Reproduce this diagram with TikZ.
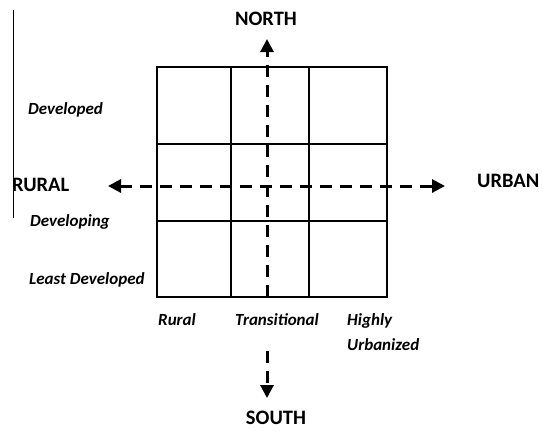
\documentclass[tikz,border=0pt]{standalone}
\usepackage{fontspec}
\setmainfont{Carlito}
\usetikzlibrary{arrows.meta}
\begin{document}
\begin{tikzpicture}[x=1pt,y=-1pt,
  gridline/.style={line width=1.8pt},
  axisline/.style={line width=3pt, dash pattern=on 12pt off 8pt},
  tip/.style={-{Triangle[length=13pt,width=13pt]}},
  bothtips/.style={{Triangle[length=13pt,width=13pt]}-{Triangle[length=13pt,width=13pt]}},
  compass/.style={font=\fontsize{20.5}{22}\selectfont\bfseries, inner sep=0pt},
  lbl/.style={font=\fontsize{17}{18}\selectfont\bfseries\itshape, inner sep=0pt, anchor=west}]
\useasboundingbox (0,0) rectangle (543,431);

% thin edge line
\draw[line width=0.8pt] (13,10) -- (13,218);

% grid
\node[draw, gridline, minimum width=230pt, minimum height=230pt, inner sep=0pt] (grid) at (272,182) {};
\coordinate (c1t) at (231,67); \coordinate (c1b) at (231,297);
\coordinate (c2t) at (309,67); \coordinate (c2b) at (309,297);
\coordinate (r1l) at (157,144); \coordinate (r1r) at (387,144);
\coordinate (r2l) at (157,221); \coordinate (r2r) at (387,221);
\draw[gridline] (c1t) -- (c1b);
\draw[gridline] (c2t) -- (c2b);
\draw[gridline] (r1l) -- (r1r);
\draw[gridline] (r2l) -- (r2r);

% axes
\coordinate (nbase) at (267,297);
\coordinate (ntip) at (267,39);
\coordinate (sbase) at (267,351);
\coordinate (stip) at (267,398);
\coordinate (wtip) at (108,186);
\coordinate (etip) at (445,186);
\draw[axisline, tip] (nbase) -- (ntip);
\draw[axisline, tip] (sbase) -- (stip);
\draw[axisline, bothtips] (wtip) -- (etip);

% compass labels
\node[compass] (north) at (266,19) {NORTH};
\node[compass] (south) at (276,418) {SOUTH};
\node[compass, anchor=west] (rural) at (12,185) {RURAL};
\node[compass, anchor=west] (urban) at (477,181) {URBAN};

% row labels
\node[lbl] (dev) at (28,110) {Developed};
\node[lbl] (deving) at (30,222) {Developing};
\node[lbl] (least) at (29,280) {Least Developed};

% column labels
\node[lbl] (colr) at (158,320) {Rural};
\node[lbl] (colt) at (235,320) {Transitional};
\node[lbl] (colh) at (347,321) {Highly};
\node[lbl] (colu) at (347,345) {Urbanized};
\end{tikzpicture}
\end{document}
